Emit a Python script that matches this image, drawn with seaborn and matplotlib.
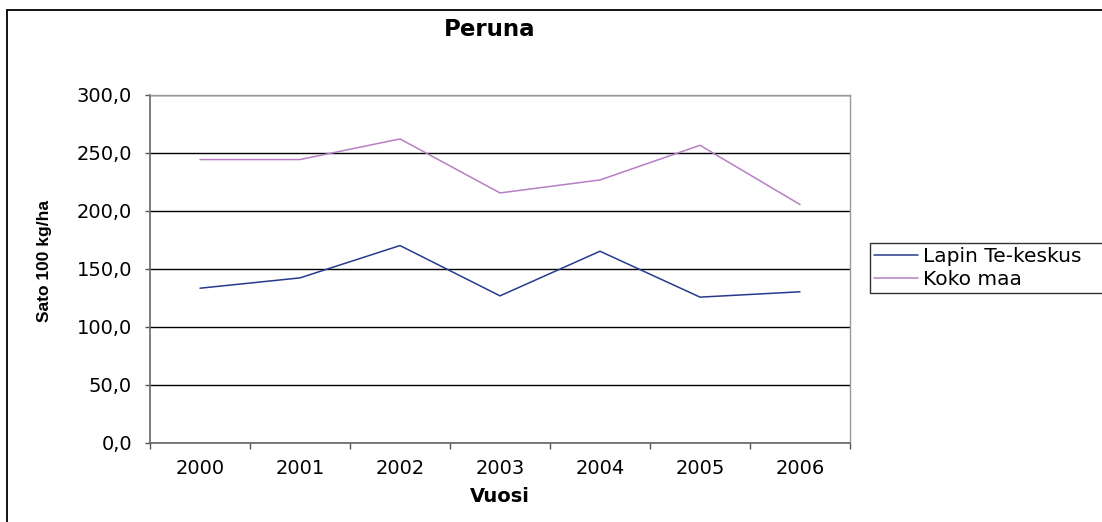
import matplotlib
matplotlib.use("Agg")
import matplotlib.pyplot as plt
import seaborn as sns
import pandas as pd
from matplotlib.lines import Line2D
from matplotlib.ticker import FixedLocator, FuncFormatter

years = ["2000", "2001", "2002", "2003", "2004", "2005", "2006"]
lapin = [133.3, 142.2, 170.1, 126.7, 165.2, 125.6, 130.2]
koko = [244.3, 244.3, 262.1, 215.5, 226.7, 256.6, 205.5]
series_names = ["Lapin Te-keskus", "Koko maa"]
y_ticks = [0, 50, 100, 150, 200, 250, 300]

df = pd.DataFrame({
    "Vuosi": list(range(len(years))) * 2,
    "value": lapin + koko,
    "series": [series_names[0]] * len(years) + [series_names[1]] * len(years),
})

sns.set_theme(style="white")
plt.rcParams["font.family"] = ["DejaVu Sans"]
for k in ["text.color", "axes.labelcolor", "xtick.color", "ytick.color"]:
    plt.rcParams[k] = "black"

fig = plt.figure(figsize=(11.02, 5.22), dpi=100)
ax = fig.add_axes([150 / 1102, 1 - 442.7 / 522, 700 / 1102, (442.7 - 95) / 522])

palette = {series_names[0]: "#283A8E", series_names[1]: "#B77FC3"}
sns.lineplot(data=df, x="Vuosi", y="value", hue="series", palette=palette,
             linewidth=1.1, ax=ax, legend=False)

ax.set_xlim(-0.5, len(years) - 0.5)
ax.set_ylim(0, 300)
ax.yaxis.set_major_locator(FixedLocator(y_ticks))
ax.yaxis.set_major_formatter(FuncFormatter(lambda v, p: f"{v:.1f}".replace(".", ",")))
ax.grid(axis="y", color="black", linewidth=1.0)
ax.set_axisbelow(True)

# x ticks at category boundaries, labels at centers
ax.set_xticks([i - 0.5 for i in range(len(years) + 1)])
ax.set_xticklabels([])
ax.set_xticks(list(range(len(years))), minor=True)
ax.set_xticklabels(years, minor=True, fontsize=14)
ax.tick_params(axis="x", which="major", length=4.3, width=1, color="#555555",
               direction="out", bottom=True)
ax.tick_params(axis="x", which="minor", length=0, pad=11.5)
ax.tick_params(axis="y", which="major", length=3.6, width=1, color="#555555",
               direction="out", left=True, labelsize=14, pad=9.4)

for s in ["left", "bottom"]:
    ax.spines[s].set_color("#666666")
    ax.spines[s].set_linewidth(1.2)
for s in ["top", "right"]:
    ax.spines[s].set_color("#999999")
    ax.spines[s].set_linewidth(1.0)

ax.set_xlabel("Vuosi", fontsize=14, fontweight="bold", labelpad=7)
ax.set_ylabel("Sato 100 kg/ha", fontsize=12.5, fontweight="bold",
              family=["Liberation Sans", "DejaVu Sans"], labelpad=0)
ax.yaxis.set_label_coords(44 / 1102, 0.5, transform=fig.transFigure)
ax.yaxis.label.set_va("center")

fig.text(490 / 1102, 1 - 30 / 522, "Peruna", ha="center", va="center",
         fontsize=16.5, fontweight="bold")

# legend (frame runs past the right edge, as in the reference)
handles = [Line2D([0], [0], color=palette[n], linewidth=1.1) for n in series_names]
leg = fig.legend(handles, series_names, loc="upper left", mode="expand",
                 bbox_to_anchor=(870 / 1102, 1 - 296 / 522, 260 / 1102, 53 / 522),
                 fontsize=14.5, frameon=True, fancybox=False, handlelength=2.2,
                 handletextpad=0.25, borderpad=0.2, labelspacing=0.22,
                 borderaxespad=0)
leg.get_frame().set_edgecolor("black")
leg.get_frame().set_linewidth(1.0)

# outer chart border (only left and top edges visible)
fig.add_artist(Line2D([7 / 1102, 7 / 1102], [0, 1 - 10 / 522],
                      transform=fig.transFigure, color="black", linewidth=1.3))
fig.add_artist(Line2D([7 / 1102, 1], [1 - 10 / 522, 1 - 10 / 522],
                      transform=fig.transFigure, color="black", linewidth=1.3))

fig.savefig("out.png", dpi=100)
